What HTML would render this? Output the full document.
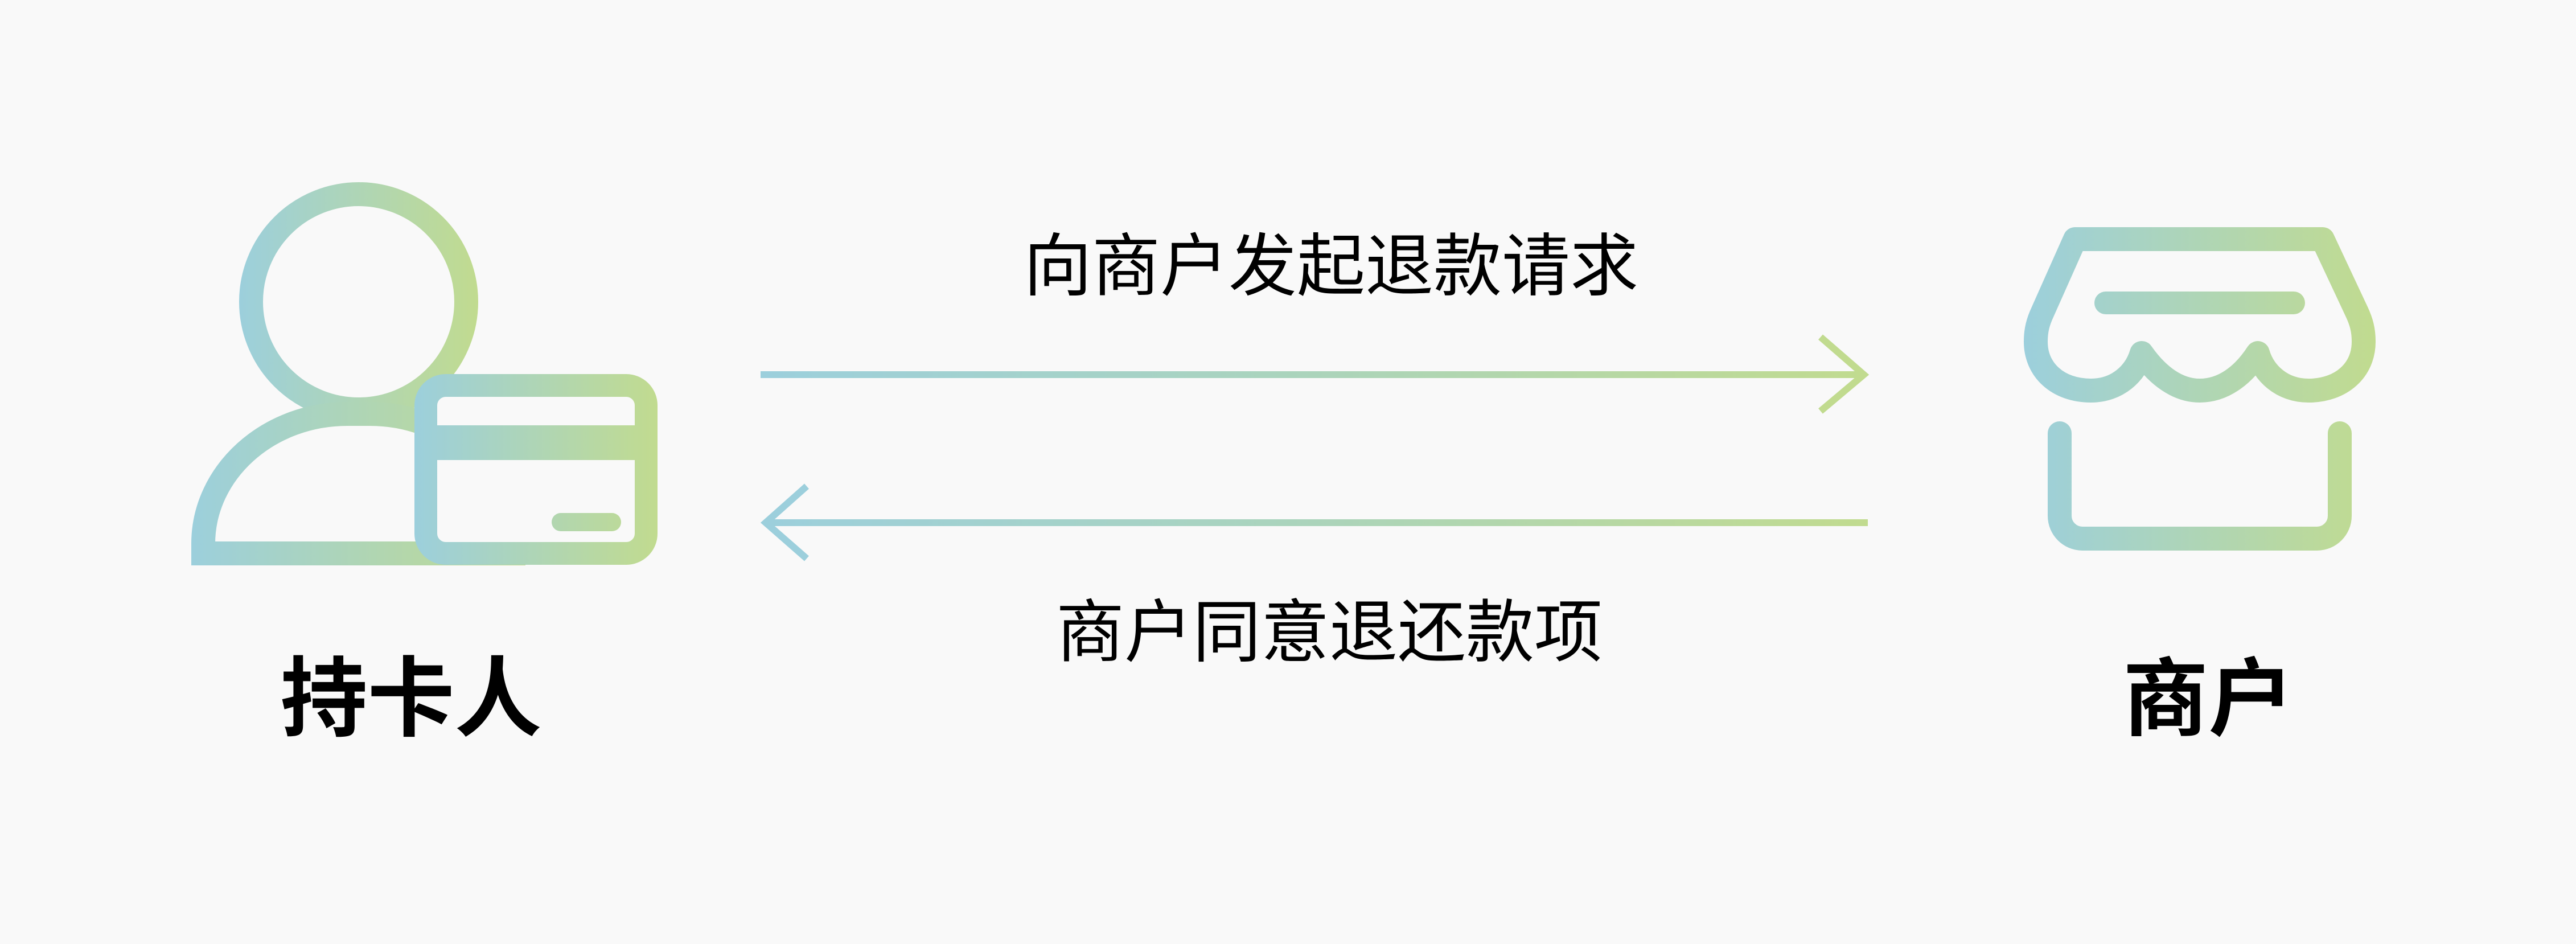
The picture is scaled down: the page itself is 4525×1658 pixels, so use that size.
<!DOCTYPE html>
<html><head><meta charset="utf-8">
<style>
html,body{margin:0;padding:0;background:#f9f9f9;}
svg{display:block;}
text{font-family:"Liberation Sans","Noto Sans CJK SC",sans-serif;fill:#000;}
</style></head>
<body>
<svg width="4525" height="1658" viewBox="0 0 4525 1658" xmlns="http://www.w3.org/2000/svg">
<defs>
<linearGradient id="g" x1="0" y1="0" x2="1" y2="0">
<stop offset="0" stop-color="#9ccfdc"/><stop offset="0.5" stop-color="#abd4bb"/><stop offset="1" stop-color="#c1db8f"/>
</linearGradient>
<linearGradient id="gu" gradientUnits="userSpaceOnUse" x1="1336" y1="0" x2="3281" y2="0">
<stop offset="0" stop-color="#9ccfdc"/><stop offset="0.5" stop-color="#abd4bb"/><stop offset="1" stop-color="#c1db8f"/>
</linearGradient>
<linearGradient id="gp" gradientUnits="userSpaceOnUse" x1="336" y1="0" x2="923" y2="0">
<stop offset="0" stop-color="#9ccfdc"/><stop offset="1" stop-color="#c1db8f"/>
</linearGradient>
<linearGradient id="gh" gradientUnits="userSpaceOnUse" x1="420" y1="0" x2="840" y2="0">
<stop offset="0" stop-color="#9ccfdc"/><stop offset="1" stop-color="#c1db8f"/>
</linearGradient>
<linearGradient id="gc" gradientUnits="userSpaceOnUse" x1="728" y1="0" x2="1155" y2="0">
<stop offset="0" stop-color="#9ccfdc"/><stop offset="1" stop-color="#c1db8f"/>
</linearGradient>
<linearGradient id="gs" gradientUnits="userSpaceOnUse" x1="3556" y1="0" x2="4172" y2="0">
<stop offset="0" stop-color="#9ccfdc"/><stop offset="1" stop-color="#c1db8f"/>
</linearGradient>
</defs>
<rect width="4525" height="1658" fill="#f9f9f9"/>

<!-- person -->
<ellipse cx="630" cy="530" rx="189" ry="189" fill="none" stroke="url(#gh)" stroke-width="42"/>
<path d="M357,972 L357,955 C357,830 470,727 610,727 L650,727 C790,727 902,830 902,955 L902,972 Z" fill="none" stroke="url(#gp)" stroke-width="42"/>
<!-- card -->
<rect x="748" y="677" width="387" height="295" rx="35" fill="#f9f9f9" stroke="url(#gc)" stroke-width="40"/>
<rect x="768" y="747" width="347" height="61" fill="url(#gc)"/>
<rect x="969" y="901" width="122" height="32" rx="16" fill="url(#gc)"/>

<!-- store -->
<path d="M3576,600 C3576,650 3615,686 3673,686 C3720,686 3752,655 3762,620 C3790,660 3825,686 3864,686 C3905,686 3940,660 3966,620 C3976,655 4008,686 4055,686 C4113,686 4152,650 4152,600 C4152,580 4148,565 4140,548 L4080,420 L3645,420 L3588,548 C3580,565 3576,580 3576,600 Z" fill="none" stroke="url(#gs)" stroke-width="42" stroke-linejoin="round"/>
<line x1="3699" y1="532" x2="4029" y2="532" stroke="url(#gs)" stroke-width="40" stroke-linecap="round"/>
<path d="M3618,761 L3618,906 C3618,928 3636,946 3658,946 L4070,946 C4092,946 4110,928 4110,906 L4110,761" fill="none" stroke="url(#gs)" stroke-width="42" stroke-linecap="round"/>

<!-- arrows -->
<line x1="1336" y1="658" x2="3276" y2="658" stroke="url(#gu)" stroke-width="12"/>
<polyline points="3198,592 3274,658 3198,722" fill="none" stroke="#c1db8f" stroke-width="12"/>
<line x1="1350" y1="918" x2="3281" y2="918" stroke="url(#gu)" stroke-width="12"/>
<polyline points="1417,854 1345,918 1417,981" fill="none" stroke="#9ccfdc" stroke-width="12"/>

<!-- labels -->
<text x="2338" y="468" font-size="120" text-anchor="middle" dominant-baseline="central">向商户发起退款请求</text>
<text x="2335" y="1111" font-size="120" text-anchor="middle" dominant-baseline="central">商户同意退还款项</text>
<text x="722" y="1228" font-size="153" font-weight="700" text-anchor="middle" dominant-baseline="central">持卡人</text>
<text x="3879" y="1228" font-size="150" font-weight="700" text-anchor="middle" dominant-baseline="central">商户</text>
</svg>
</body></html>
